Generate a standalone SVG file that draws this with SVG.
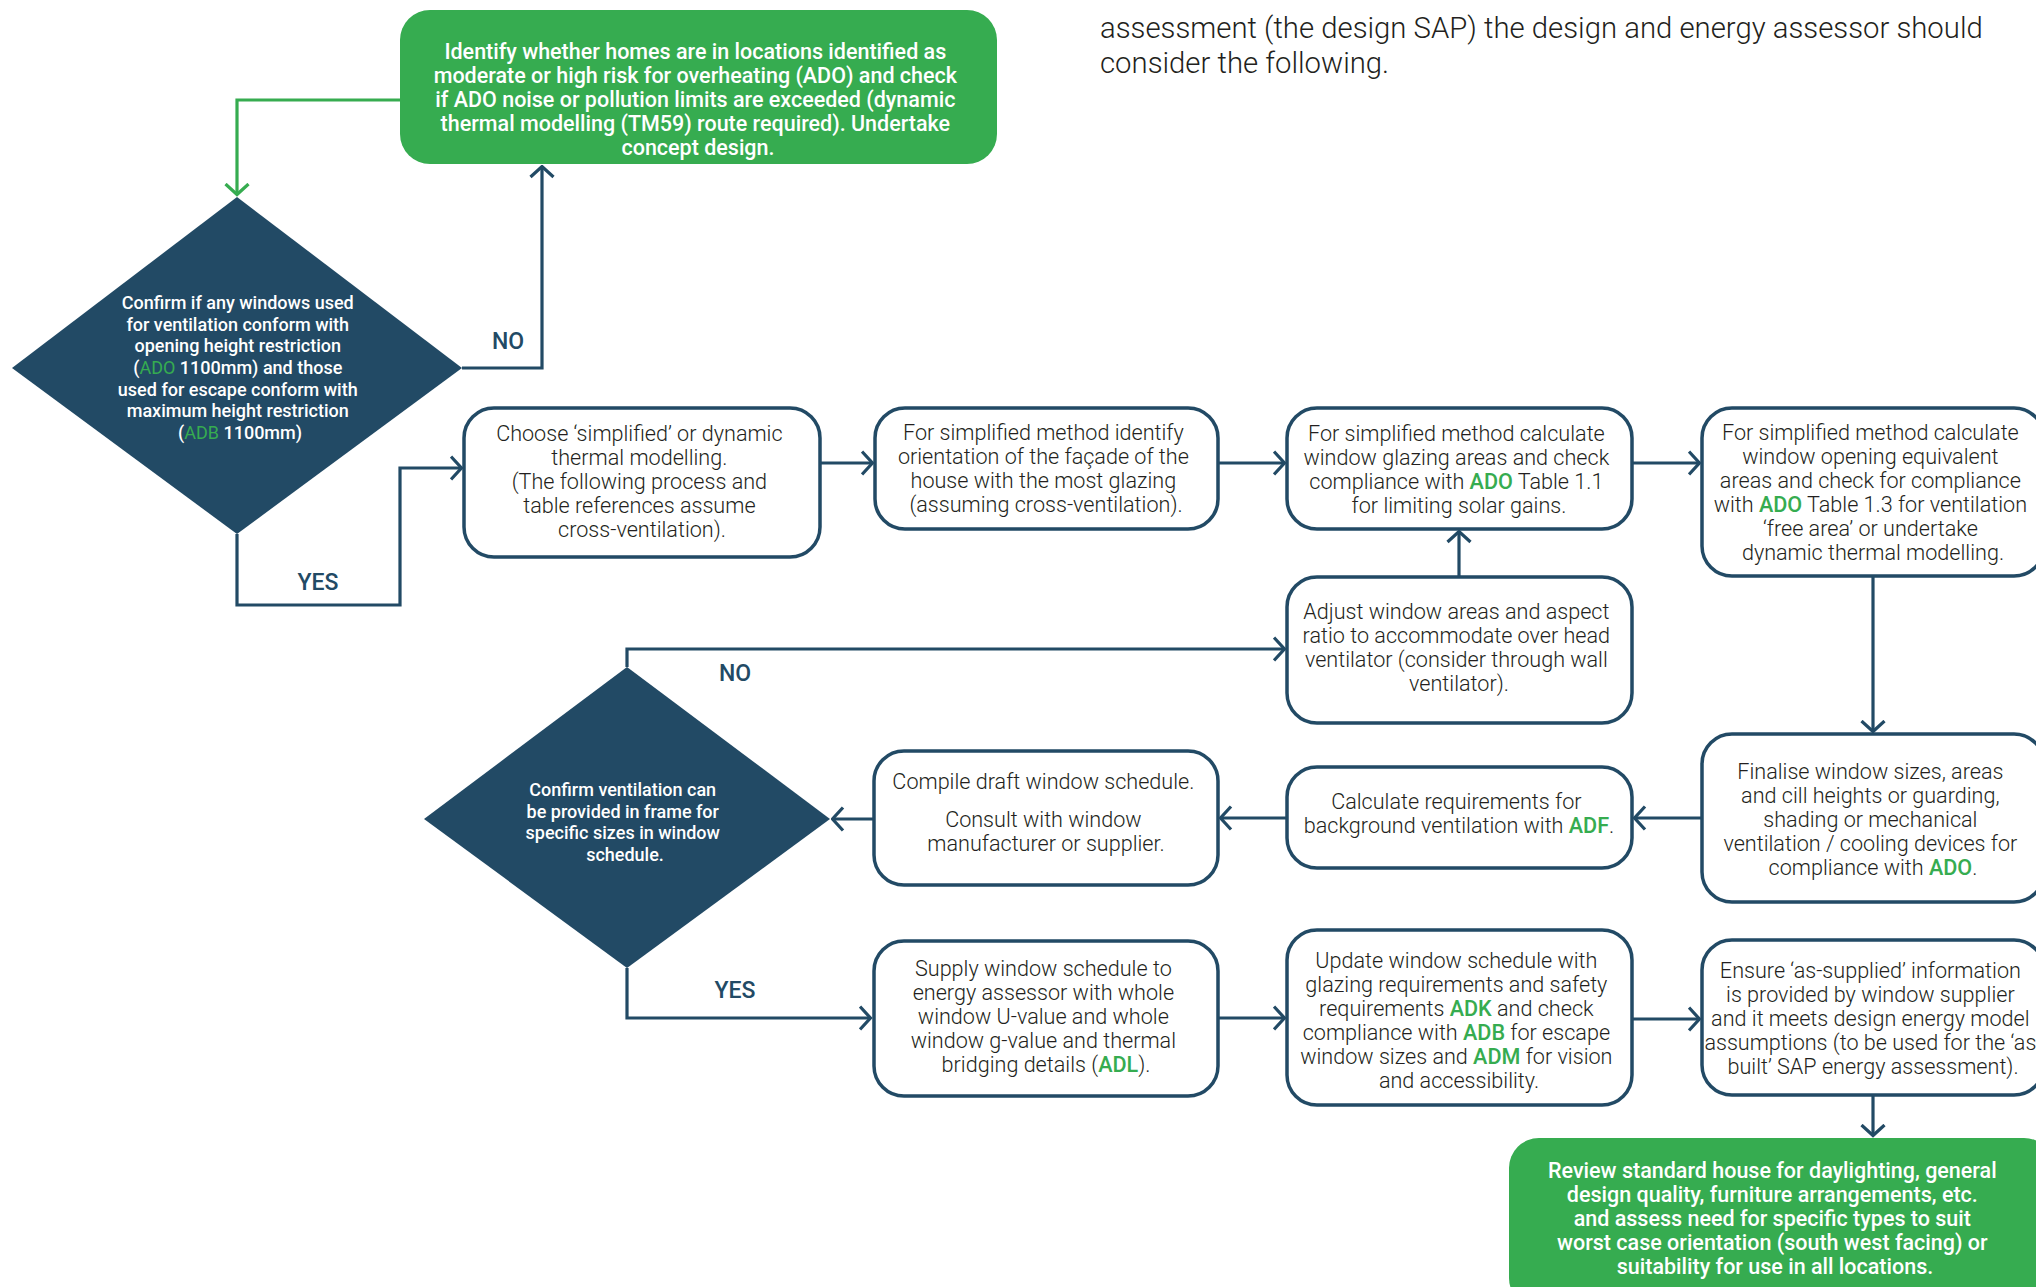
<svg xmlns="http://www.w3.org/2000/svg" width="2036" height="1287" viewBox="0 0 2036 1287">
<defs>
<style>
.box{fill:#fff;stroke:#224a65;stroke-width:3.5}
.gbox{fill:#36ac50}
.dia{fill:#224a65}
.bt{font-family:Roboto,"Liberation Sans",sans-serif;font-weight:300;font-size:21.6px;fill:#231f20;text-anchor:middle}
.gt{font-family:Roboto,"Liberation Sans",sans-serif;font-weight:500;font-size:21.5px;fill:#fff;text-anchor:middle}
.dt{font-family:Roboto,"Liberation Sans",sans-serif;font-weight:500;font-size:18px;fill:#fff;text-anchor:middle}
.g{fill:#36ac50;font-weight:500}
.gl{fill:#36ac50;font-weight:400}
.lbl{font-family:Roboto,"Liberation Sans",sans-serif;font-weight:500;font-size:23px;fill:#224a65;text-anchor:middle}
.hd{font-family:Roboto,"Liberation Sans",sans-serif;font-weight:300;font-size:29.3px;fill:#231f20}
.c{fill:none;stroke:#224a65;stroke-width:3.2}
.cg{fill:none;stroke:#36ac50;stroke-width:3.2}
</style>
<marker id="ah" markerUnits="userSpaceOnUse" viewBox="0 0 14 26" refX="12.5" refY="13" markerWidth="14" markerHeight="26" orient="auto">
<path d="M1.5,1.5 L12,13 L1.5,24.5" fill="none" stroke="#224a65" stroke-width="3.2"/>
</marker>
<marker id="ahg" markerUnits="userSpaceOnUse" viewBox="0 0 14 26" refX="12.5" refY="13" markerWidth="14" markerHeight="26" orient="auto">
<path d="M1.5,1.5 L12,13 L1.5,24.5" fill="none" stroke="#36ac50" stroke-width="3.2"/>
</marker>
</defs>
<rect width="2036" height="1287" fill="#fff"/>

<g id="intro-text">
<text class="hd" x="1100" y="38">assessment (the design SAP) the design and energy assessor should</text>
<text class="hd" x="1100" y="73">consider the following.</text>
</g>

<g id="connectors">
<path class="cg" d="M400,100 H237 V195" marker-end="url(#ahg)"/>
<path class="c" d="M462,368 H542 V166" marker-end="url(#ah)"/>
<path class="c" d="M237,534 V605 H400 V468 H462" marker-end="url(#ah)"/>
<path class="c" d="M820,463 H873" marker-end="url(#ah)"/>
<path class="c" d="M1218,463 H1285" marker-end="url(#ah)"/>
<path class="c" d="M1632,463 H1700" marker-end="url(#ah)"/>
<path class="c" d="M1873,576 V732" marker-end="url(#ah)"/>
<path class="c" d="M1459,577 V531" marker-end="url(#ah)"/>
<path class="c" d="M1702,818 H1634" marker-end="url(#ah)"/>
<path class="c" d="M1287,818 H1220" marker-end="url(#ah)"/>
<path class="c" d="M874,819 H832" marker-end="url(#ah)"/>
<path class="c" d="M627,667 V649 H1285" marker-end="url(#ah)"/>
<path class="c" d="M627,968 V1018 H871" marker-end="url(#ah)"/>
<path class="c" d="M1218,1018 H1285" marker-end="url(#ah)"/>
<path class="c" d="M1632,1019 H1700" marker-end="url(#ah)"/>
<path class="c" d="M1873,1095 V1136" marker-end="url(#ah)"/>
<text class="lbl" x="508" y="349">NO</text>
<text class="lbl" x="318" y="590">YES</text>
<text class="lbl" x="735" y="681">NO</text>
<text class="lbl" x="735" y="998">YES</text>
</g>

<g id="start">
<rect class="gbox" x="400" y="10" width="597" height="154" rx="30"/>
<text class="gt">
<tspan x="698" y="59">Identify whether homes are in locations identified as</tspan>
<tspan x="698" y="83">moderate or high risk for overheating (ADO) and check</tspan>
<tspan x="698" y="107">if ADO noise or pollution limits are exceeded (dynamic</tspan>
<tspan x="698" y="131">thermal modelling (TM59) route required). Undertake</tspan>
<tspan x="698" y="155">concept design.</tspan>
</text>
</g>

<g id="decision1">
<polygon class="dia" points="237,197 462,368 237,534 12,368"/>
<text class="dt">
<tspan x="240" y="309">Confirm if any windows used</tspan>
<tspan x="240" y="331">for ventilation conform with</tspan>
<tspan x="240" y="352">opening height restriction</tspan>
<tspan x="240" y="374">(<tspan class="gl">ADO</tspan> 1100mm) and those</tspan>
<tspan x="240" y="396">used for escape conform with</tspan>
<tspan x="240" y="417">maximum height restriction</tspan>
<tspan x="240" y="439">(<tspan class="gl">ADB</tspan> 1100mm)</tspan>
</text>
</g>

<g id="choose">
<rect class="box" x="464" y="408" width="356" height="149" rx="30"/>
<text class="bt">
<tspan x="642" y="441">Choose ‘simplified’ or dynamic</tspan>
<tspan x="642" y="465">thermal modelling.</tspan>
<tspan x="642" y="489">(The following process and</tspan>
<tspan x="642" y="513">table references assume</tspan>
<tspan x="642" y="537">cross-ventilation).</tspan>
</text>
</g>

<g id="orientation">
<rect class="box" x="875" y="408" width="343" height="121" rx="30"/>
<text class="bt">
<tspan x="1046" y="440">For simplified method identify</tspan>
<tspan x="1046" y="464">orientation of the façade of the</tspan>
<tspan x="1046" y="488">house with the most glazing</tspan>
<tspan x="1046" y="512">(assuming cross-ventilation).</tspan>
</text>
</g>

<g id="glazing">
<rect class="box" x="1287" y="408" width="345" height="121" rx="30"/>
<text class="bt">
<tspan x="1459" y="441">For simplified method calculate</tspan>
<tspan x="1459" y="465">window glazing areas and check</tspan>
<tspan x="1459" y="489">compliance with <tspan class="g">ADO</tspan> Table 1.1</tspan>
<tspan x="1459" y="513">for limiting solar gains.</tspan>
</text>
</g>

<g id="opening">
<rect class="box" x="1702" y="408" width="342" height="168" rx="30"/>
<text class="bt">
<tspan x="1873" y="440">For simplified method calculate</tspan>
<tspan x="1873" y="464">window opening equivalent</tspan>
<tspan x="1873" y="488">areas and check for compliance</tspan>
<tspan x="1873" y="512">with <tspan class="g">ADO</tspan> Table 1.3 for ventilation</tspan>
<tspan x="1873" y="536">‘free area’ or undertake</tspan>
<tspan x="1873" y="560">dynamic thermal modelling.</tspan>
</text>
</g>

<g id="adjust">
<rect class="box" x="1287" y="577" width="345" height="146" rx="30"/>
<text class="bt">
<tspan x="1459" y="619">Adjust window areas and aspect</tspan>
<tspan x="1459" y="643">ratio to accommodate over head</tspan>
<tspan x="1459" y="667">ventilator (consider through wall</tspan>
<tspan x="1459" y="691">ventilator).</tspan>
</text>
</g>

<g id="finalise">
<rect class="box" x="1702" y="734" width="342" height="168" rx="30"/>
<text class="bt">
<tspan x="1873" y="779">Finalise window sizes, areas</tspan>
<tspan x="1873" y="803">and cill heights or guarding,</tspan>
<tspan x="1873" y="827">shading or mechanical</tspan>
<tspan x="1873" y="851">ventilation / cooling devices for</tspan>
<tspan x="1873" y="875">compliance with <tspan class="g">ADO</tspan>.</tspan>
</text>
</g>

<g id="background-vent">
<rect class="box" x="1287" y="767" width="345" height="101" rx="30"/>
<text class="bt">
<tspan x="1459" y="809">Calculate requirements for</tspan>
<tspan x="1459" y="833">background ventilation with <tspan class="g">ADF</tspan>.</tspan>
</text>
</g>

<g id="compile">
<rect class="box" x="874" y="751" width="344" height="134" rx="30"/>
<text class="bt">
<tspan x="1046" y="789">Compile draft window schedule.</tspan>
<tspan x="1046" y="827">Consult with window</tspan>
<tspan x="1046" y="851">manufacturer or supplier.</tspan>
</text>
</g>

<g id="decision2">
<polygon class="dia" points="627,667 830,819 627,968 424,819"/>
<text class="dt">
<tspan x="625" y="796">Confirm ventilation can</tspan>
<tspan x="625" y="818">be provided in frame for</tspan>
<tspan x="625" y="839">specific sizes in window</tspan>
<tspan x="625" y="861">schedule.</tspan>
</text>
</g>

<g id="supply">
<rect class="box" x="874" y="941" width="344" height="155" rx="30"/>
<text class="bt">
<tspan x="1046" y="976">Supply window schedule to</tspan>
<tspan x="1046" y="1000">energy assessor with whole</tspan>
<tspan x="1046" y="1024">window U-value and whole</tspan>
<tspan x="1046" y="1048">window g-value and thermal</tspan>
<tspan x="1046" y="1072">bridging details (<tspan class="g">ADL</tspan>).</tspan>
</text>
</g>

<g id="update">
<rect class="box" x="1287" y="930" width="345" height="175" rx="30"/>
<text class="bt">
<tspan x="1459" y="968">Update window schedule with</tspan>
<tspan x="1459" y="992">glazing requirements and safety</tspan>
<tspan x="1459" y="1016">requirements <tspan class="g">ADK</tspan> and check</tspan>
<tspan x="1459" y="1040">compliance with <tspan class="g">ADB</tspan> for escape</tspan>
<tspan x="1459" y="1064">window sizes and <tspan class="g">ADM</tspan> for vision</tspan>
<tspan x="1459" y="1088">and accessibility.</tspan>
</text>
</g>

<g id="ensure">
<rect class="box" x="1702" y="940" width="342" height="155" rx="30"/>
<text class="bt">
<tspan x="1873" y="978">Ensure ‘as-supplied’ information</tspan>
<tspan x="1873" y="1002">is provided by window supplier</tspan>
<tspan x="1873" y="1026">and it meets design energy model</tspan>
<tspan x="1873" y="1050">assumptions (to be used for the ‘as</tspan>
<tspan x="1873" y="1074">built’ SAP energy assessment).</tspan>
</text>
</g>

<g id="review">
<rect class="gbox" x="1509" y="1138" width="545" height="170" rx="30"/>
<text class="gt">
<tspan x="1775" y="1178">Review standard house for daylighting, general</tspan>
<tspan x="1775" y="1202">design quality, furniture arrangements, etc.</tspan>
<tspan x="1775" y="1226">and assess need for specific types to suit</tspan>
<tspan x="1775" y="1250">worst case orientation (south west facing) or</tspan>
<tspan x="1775" y="1274">suitability for use in all locations.</tspan>
</text>
</g>
</svg>
